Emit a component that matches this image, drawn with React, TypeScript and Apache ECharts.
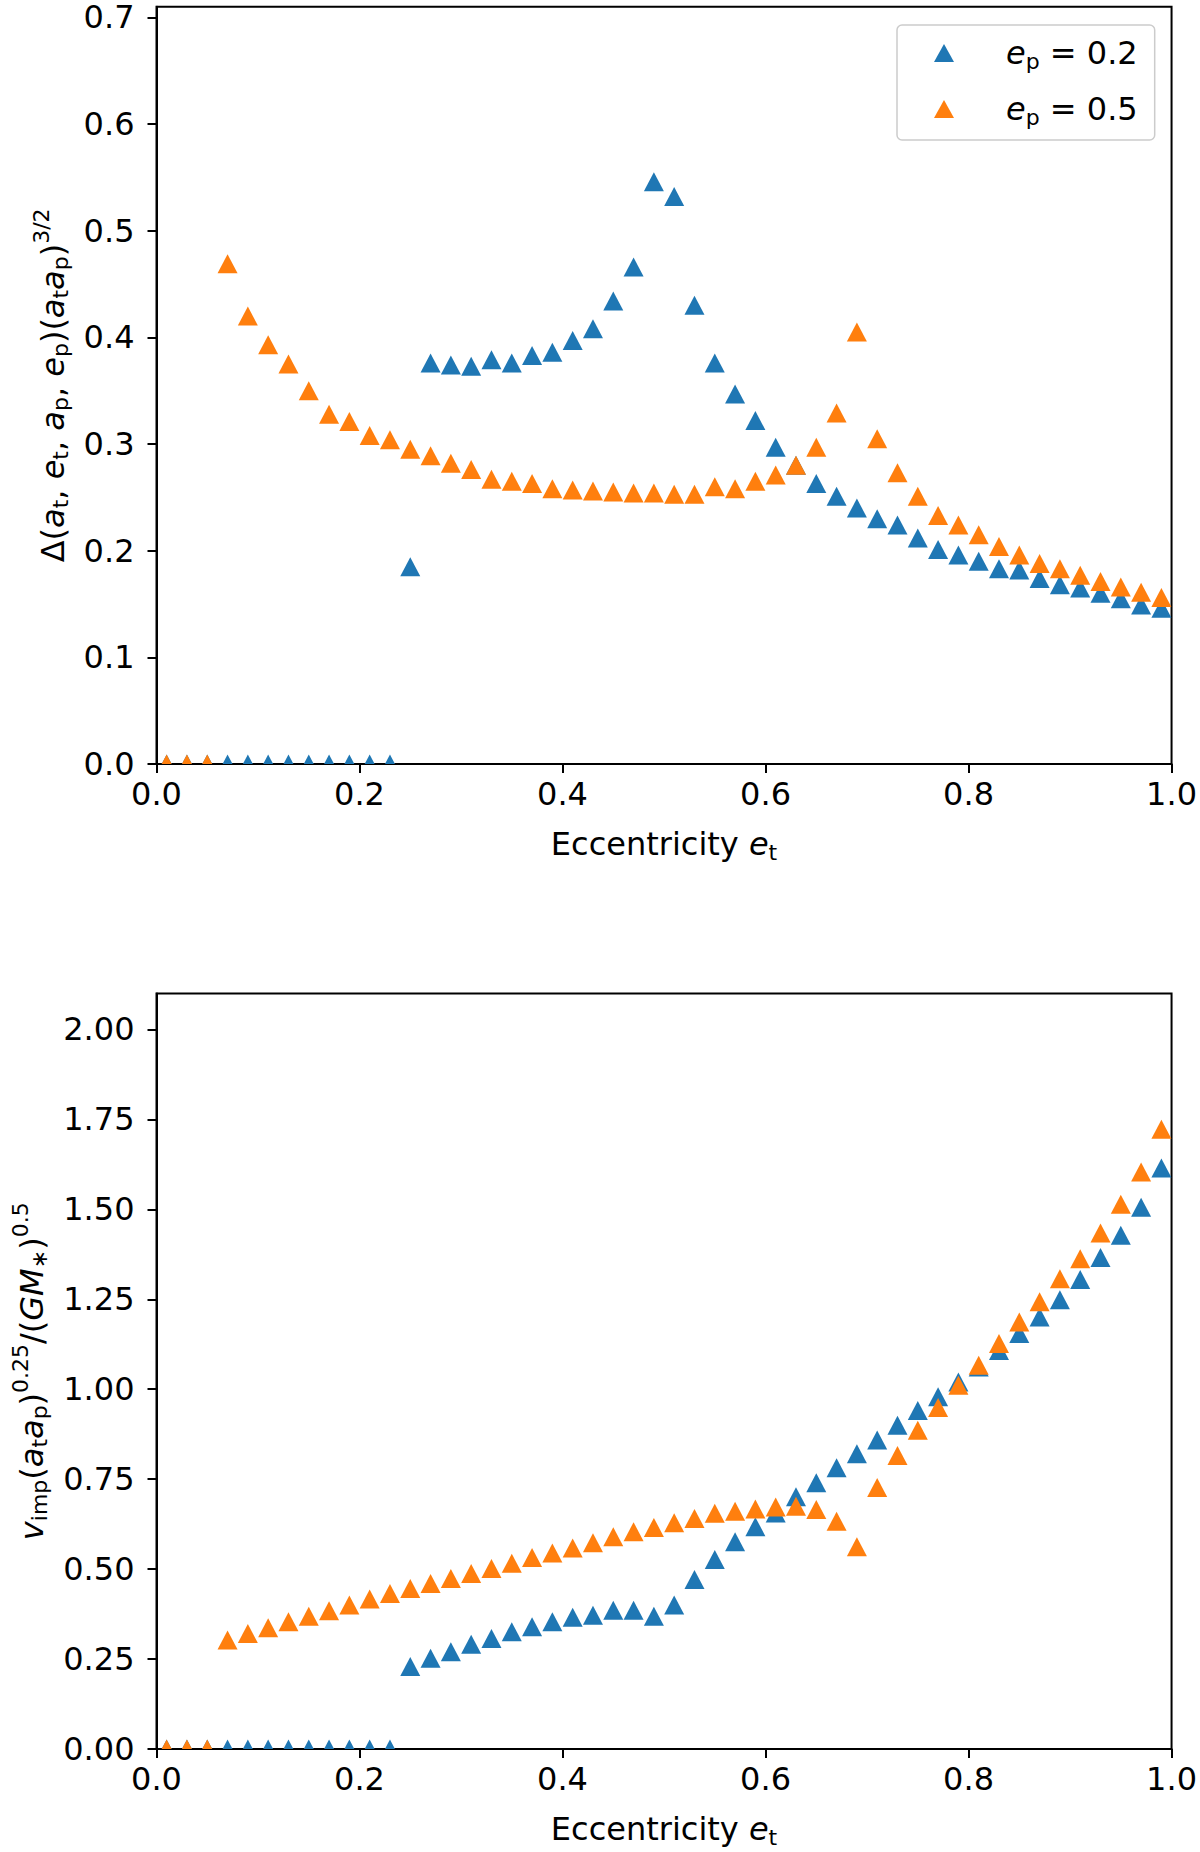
import React, { useEffect, useRef } from 'react';
import * as echarts from 'echarts';

// eccentricity of the target orbit (x for every point)
const eccentricity = [
  0.01, 0.03, 0.05, 0.07, 0.09, 0.11, 0.13, 0.15, 0.17, 0.19,
  0.21, 0.23, 0.25, 0.27, 0.29, 0.31, 0.33, 0.35, 0.37, 0.39,
  0.41, 0.43, 0.45, 0.47, 0.49, 0.51, 0.53, 0.55, 0.57, 0.59,
  0.61, 0.63, 0.65, 0.67, 0.69, 0.71, 0.73, 0.75, 0.77, 0.79,
  0.81, 0.83, 0.85, 0.87, 0.89, 0.91, 0.93, 0.95, 0.97, 0.99,
];

// top panel: Delta (a_t a_p)^{3/2}
const deltaEp02 = [
  0, 0, 0, 0, 0, 0, 0, 0, 0, 0,
  0, 0, 0.185, 0.376, 0.374, 0.373, 0.379, 0.376, 0.383, 0.386,
  0.397, 0.408, 0.434, 0.466, 0.546, 0.532, 0.43, 0.376, 0.347, 0.322,
  0.297, 0.28, 0.263, 0.251, 0.24, 0.23, 0.224, 0.212, 0.201, 0.196,
  0.19, 0.183, 0.182, 0.174, 0.168, 0.165, 0.16, 0.155, 0.149, 0.146,
];
const deltaEp05 = [
  0, 0, 0, 0.469, 0.42, 0.393, 0.375, 0.35, 0.328, 0.321,
  0.308, 0.304, 0.295, 0.289, 0.282, 0.276, 0.267, 0.265, 0.263, 0.258,
  0.257, 0.256, 0.255, 0.254, 0.254, 0.253, 0.253, 0.26, 0.258, 0.265,
  0.271, 0.28, 0.297, 0.329, 0.405, 0.305, 0.273, 0.251, 0.233, 0.224,
  0.215, 0.204, 0.196, 0.188, 0.183, 0.177, 0.171, 0.166, 0.161, 0.156,
];

// bottom panel: v_imp (a_t a_p)^0.25 / (G M)^0.5
const vimpEp02 = [
  0, 0, 0, 0, 0, 0, 0, 0, 0, 0,
  0, 0, 0.229, 0.252, 0.27, 0.291, 0.307, 0.326, 0.34, 0.354,
  0.366, 0.372, 0.386, 0.386, 0.369, 0.4, 0.471, 0.527, 0.576, 0.618,
  0.656, 0.701, 0.74, 0.782, 0.821, 0.859, 0.9, 0.941, 0.979, 1.02,
  1.062, 1.108, 1.155, 1.201, 1.249, 1.305, 1.366, 1.428, 1.506, 1.615,
];
const vimpEp05 = [
  0, 0, 0, 0.303, 0.321, 0.337, 0.354, 0.369, 0.384, 0.4,
  0.417, 0.432, 0.446, 0.46, 0.474, 0.488, 0.502, 0.516, 0.532, 0.545,
  0.559, 0.573, 0.59, 0.604, 0.616, 0.629, 0.641, 0.655, 0.661, 0.667,
  0.673, 0.675, 0.666, 0.633, 0.562, 0.727, 0.816, 0.886, 0.949, 1.011,
  1.067, 1.127, 1.187, 1.243, 1.307, 1.363, 1.434, 1.514, 1.604, 1.723,
];

const xTicks = [0, 0.2, 0.4, 0.6, 0.8, 1.0];
const deltaTicks = [0, 0.1, 0.2, 0.3, 0.4, 0.5, 0.6, 0.7];
const vimpTicks = [0, 0.25, 0.5, 0.75, 1.0, 1.25, 1.5, 1.75, 2.0];

const seriesNames = ['e_p = 0.2', 'e_p = 0.5'];
const colors = ['#1f77b4', '#ff7f0e'];

const FONT = 'DejaVu Sans';
const FS = 32;
const MARK = [20, 19];

// mathtext-ish pieces: roman, italic, subscript, superscript
const rich = {
  r: { fontFamily: FONT, fontSize: FS, lineHeight: 44, color: '#000' },
  i: { fontFamily: FONT, fontSize: FS, lineHeight: 44, fontStyle: 'italic', color: '#000' },
  sb: { fontFamily: FONT, fontSize: 22, verticalAlign: 'bottom', padding: [0, 0, 3, 0], color: '#000' },
  sp: { fontFamily: FONT, fontSize: 22, verticalAlign: 'top', color: '#000' },
  // legend label, pushed away from the marker
  li: { fontFamily: FONT, fontSize: FS, lineHeight: 44, fontStyle: 'italic', color: '#000', padding: [0, 0, 0, 47] },
};

const onTick = (ticks: number[], v: number) => ticks.some((t) => Math.abs(t - v) < 1e-9);

// markers at y = 0 get clipped by the axes in the original, only the top half shows
const toPoints = (ys: number[]) =>
  ys.map((y, k) =>
    y === 0
      ? { value: [eccentricity[k], y], symbolSize: [MARK[0] / 2, MARK[1] / 2], symbolOffset: [0, -MARK[1] / 4] }
      : [eccentricity[k], y]
  );

const axisLine = { show: true, onZero: false, lineStyle: { color: '#000', width: 2 } };

const xAxisFor = (gridIndex: number) => ({
  type: 'value',
  gridIndex,
  min: 0,
  max: 1,
  interval: 0.2,
  name: '{r|Eccentricity }{i|e}{sb|t}',
  nameLocation: 'middle',
  nameGap: 58,
  nameTextStyle: { rich },
  axisLine,
  axisTick: { show: true, length: 9, customValues: xTicks, lineStyle: { color: '#000', width: 2 } },
  axisLabel: {
    customValues: xTicks,
    margin: 14,
    fontFamily: FONT,
    fontSize: FS,
    color: '#000',
    formatter: (v: number) => (onTick(xTicks, v) ? v.toFixed(1) : ''),
  },
  splitLine: { show: false },
});

const yAxisFor = (gridIndex: number, max: number, interval: number, ticks: number[], digits: number, name: string, nameGap: number) => ({
  type: 'value',
  gridIndex,
  min: 0,
  max,
  interval,
  name,
  nameLocation: 'middle',
  nameRotate: 90,
  nameGap,
  nameTextStyle: { rich },
  axisLine,
  axisTick: { show: true, length: 9, customValues: ticks, lineStyle: { color: '#000', width: 2 } },
  axisLabel: {
    customValues: ticks,
    margin: 22,
    fontFamily: FONT,
    fontSize: FS,
    lineHeight: 26,
    color: '#000',
    formatter: (v: number) => (onTick(ticks, v) ? v.toFixed(digits) : ''),
  },
  splitLine: { show: false },
});

const scatter = (name: string, color: string, idx: number, ys: number[]) => ({
  name,
  type: 'scatter',
  xAxisIndex: idx,
  yAxisIndex: idx,
  symbol: 'triangle',
  symbolSize: MARK,
  itemStyle: { color, opacity: 1 },
  data: toPoints(ys),
});

const App = () => {
  const chartRef = useRef<HTMLDivElement>(null);

  useEffect(() => {
    const chart = echarts.init(chartRef.current, null, { renderer: 'svg' });

    const options = {
      animation: false,
      backgroundColor: '#fff',
      textStyle: { fontFamily: FONT },
      grid: [
        { left: 156.5, right: 28, top: 6.7, bottom: 1088, show: true, borderColor: '#000', borderWidth: 2 },
        { left: 156.5, right: 28, top: 993.5, bottom: 103, show: true, borderColor: '#000', borderWidth: 2 },
      ],
      legend: {
        data: seriesNames,
        orient: 'vertical',
        left: 897,
        top: 25,
        padding: [12, 17, 12, 37],
        itemGap: 21,
        itemWidth: 20,
        itemHeight: 18,
        icon: 'triangle',
        selectedMode: false,
        backgroundColor: '#fff',
        borderColor: '#cccccc',
        borderWidth: 1.5,
        borderRadius: 5,
        formatter: (name: string) => '{li|e}{sb|p}{r| = ' + name.split('= ')[1] + '}',
        textStyle: { rich },
      },
      xAxis: [xAxisFor(0), xAxisFor(1)],
      yAxis: [
        yAxisFor(
          0, 0.71, 0.1, deltaTicks, 1,
          '{r|Δ(}{i|a}{sb|t}{r|, }{i|e}{sb|t}{r|, }{i|a}{sb|p}{r|, }{i|e}{sb|p}{r|)(}{i|a}{sb|t}{i|a}{sb|p}{r|)}{sp|3/2}',
          82
        ),
        yAxisFor(
          1, 2.1, 0.25, vimpTicks, 2,
          '{i|v}{sb|imp}{r|(}{i|a}{sb|t}{i|a}{sb|p}{r|)}{sp|0.25}{r|/(}{i|GM}{sb|∗}{r|)}{sp|0.5}',
          103
        ),
      ],
      series: [
        scatter(seriesNames[0], colors[0], 0, deltaEp02),
        scatter(seriesNames[1], colors[1], 0, deltaEp05),
        scatter(seriesNames[0], colors[0], 1, vimpEp02),
        scatter(seriesNames[1], colors[1], 1, vimpEp05),
      ],
    };

    chart.setOption(options);

    return () => {
      chart.dispose();
    };
  }, []);

  return <div ref={chartRef} style={{ position: 'absolute', left: 0, top: 0, width: '1200px', height: '1852px' }}></div>;
};

export default App;
